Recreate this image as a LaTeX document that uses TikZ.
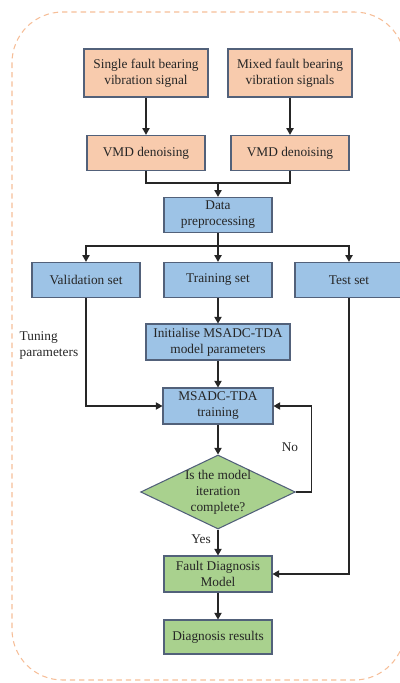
\documentclass[tikz,border=0pt]{standalone}
\usepackage{fontspec}
\setmainfont{Liberation Serif}
\usetikzlibrary{arrows.meta,shapes.geometric}

\definecolor{peach}{HTML}{F8CBAD}
\definecolor{skyblue}{HTML}{9DC3E6}
\definecolor{leaf}{HTML}{A9D18E}
\definecolor{edgegray}{HTML}{52617A}
\definecolor{framecol}{HTML}{F6BE98}

\begin{document}
\begin{tikzpicture}[x=0.75pt, y=-0.75pt,
    every node/.style={font=\normalsize, text=black!85},
    box/.style={rectangle, draw=edgegray, line width=0.8pt, align=center,
        inner sep=1pt, minimum width=81pt, minimum height=26.5pt},
    orangebox/.style={box, fill=peach},
    bluebox/.style={box, fill=skyblue},
    greenbox/.style={box, fill=leaf},
    decision/.style={diamond, draw=edgegray, line width=0.8pt, fill=leaf,
        inner sep=0pt, minimum width=116pt, minimum height=55.5pt},
    line/.style={draw=black!85, line width=0.8pt},
    arrow/.style={line, -{Triangle[length=5pt,width=5.5pt]}}]

    \useasboundingbox (0,0) rectangle (400,683);

    % Frame
    \draw[framecol, line width=0.8pt, dash pattern=on 4pt off 3pt,
        rounded corners=38pt] (12,12) rectangle (405,680);

    % Nodes
    \node[orangebox, minimum width=93pt, minimum height=36pt] (single) at (146,73)
        {Single fault bearing\\vibration signal};
    \node[orangebox, minimum width=93pt, minimum height=36pt] (mixed) at (290,73)
        {Mixed fault bearing\\vibration signals};
    \node[orangebox, minimum width=88.5pt] (vmd1) at (146,153) {VMD denoising};
    \node[orangebox, minimum width=88.5pt] (vmd2) at (290,153) {VMD denoising};
    \node[bluebox] (data) at (218,215) {Data\\preprocessing};
    \node[bluebox] (valid) at (86,280) {Validation set};
    \node[bluebox] (train) at (218,280) {Training set};
    \node[bluebox] (test) at (349,280) {Test set};
    \node[bluebox, minimum width=108pt, minimum height=27pt] (init) at (218,342)
        {Initialise MSADC-TDA\\model parameters};
    \node[bluebox, minimum width=82.5pt, minimum height=27pt] (msadc) at (218,406)
        {MSADC-TDA\\training};
    \node[decision, label={[align=center, text=black!85]center:Is the model\\iteration\\complete?}]
        (check) at (218,492) {};
    \node[greenbox, minimum height=27pt] (fdm) at (218,574) {Fault Diagnosis\\Model};
    \node[greenbox, minimum height=25.5pt] (result) at (218,637) {Diagnosis results};

    % Labels
    \node[anchor=west, align=left] (tuning) at (15,345) {Tuning\\parameters};
    \node (no) at (290,447) {No};
    \node (yes) at (201,539) {Yes};

    % Lines
    \coordinate (merge) at (218,183);
    \coordinate (split) at (218,246);
    \draw[arrow] (single) -- (vmd1);
    \draw[arrow] (mixed) -- (vmd2);
    \draw[line] (vmd1.south) |- (merge);
    \draw[line] (vmd2.south) |- (merge);
    \draw[arrow] (merge) -- (data);
    \draw[line] (data.south) -- (split);
    \draw[arrow] (split) -| (valid.north);
    \draw[arrow] (split) -- (train.north);
    \draw[arrow] (split) -| (test.north);
    \draw[arrow] (train) -- (init);
    \draw[arrow] (init) -- (msadc);
    \draw[arrow] (valid.south) |- (msadc.west);
    \draw[arrow] (msadc) -- (check);
    \draw[arrow] (check.east) -- ++(16,0) |- (msadc.east);
    \draw[arrow] (check) -- (fdm);
    \draw[arrow] (test.south) |- (fdm.east);
    \draw[arrow] (fdm) -- (result);

\end{tikzpicture}
\end{document}
